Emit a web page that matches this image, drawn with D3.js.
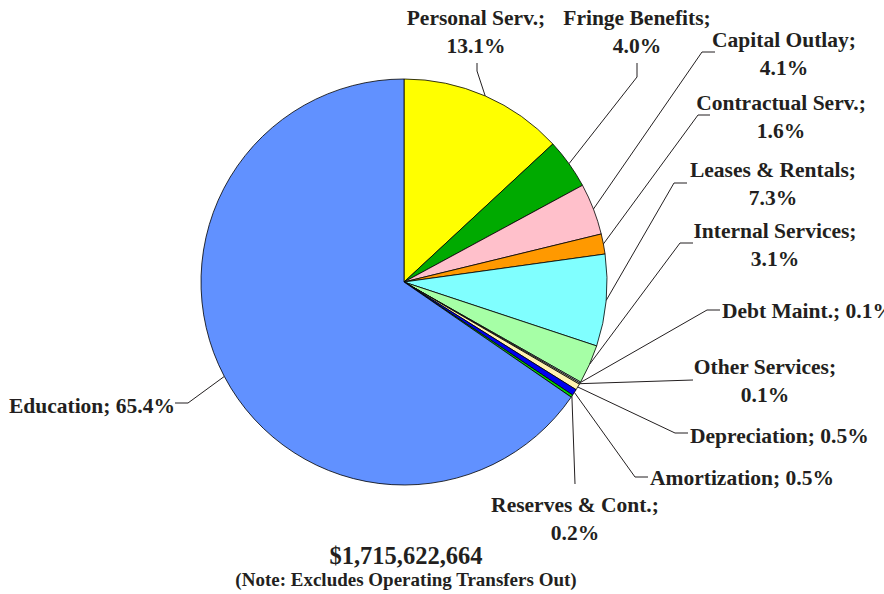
<!DOCTYPE html>
<html>
<head>
<meta charset="utf-8">
<script src="https://cdn.jsdelivr.net/npm/d3@7"></script>
<style>
  html, body { margin: 0; padding: 0; background: #fff; }
  svg { display: block; }
  text { font-family: "Liberation Serif", "Times New Roman", serif; font-weight: bold; fill: #231f20; }
</style>
</head>
<body>
<svg id="chart" width="884" height="594"></svg>
<script>
// Budget shares by category, clockwise from 12 o'clock
const categories = [
  "Personal Serv.", "Fringe Benefits", "Capital Outlay", "Contractual Serv.",
  "Leases & Rentals", "Internal Services", "Debt Maint.", "Other Services",
  "Depreciation", "Amortization", "Reserves & Cont.", "Education"
];
const shares = [13.1, 4.0, 4.1, 1.6, 7.3, 3.1, 0.1, 0.1, 0.5, 0.5, 0.2, 65.4];
const sliceColors = [
  "#ffff00", "#00aa00", "#ffc0cb", "#ff9900",
  "#80ffff", "#a6ffa6", "#d9f2ff", "#ffffcc",
  "#fff2b0", "#0000ee", "#00dd00", "#6191ff"
];
const totalLabel = "$1,715,622,664";
const noteLabel = "(Note: Excludes Operating Transfers Out)";

// Label placement: anchor point, alignment, one or two lines, and the elbow of the leader
const labelLayout = [
  { x: 476, y: 25, anchor: "middle", wrap: true,  elbow: [[477, 71], [477, 63]] },
  { x: 637, y: 25, anchor: "middle", wrap: true,  elbow: [[637, 77], [637, 63]] },
  { x: 784, y: 47, anchor: "middle", wrap: true,  elbow: [[702, 52], [715, 52]] },
  { x: 781, y: 110, anchor: "middle", wrap: true, elbow: [[698, 115], [710, 115]] },
  { x: 773, y: 177, anchor: "middle", wrap: true, elbow: [[674, 183], [687, 183]] },
  { x: 775, y: 238, anchor: "middle", wrap: true, elbow: [[680, 243], [693, 243]] },
  { x: 722, y: 318, anchor: "start", wrap: false, elbow: [[707, 310], [720, 310]] },
  { x: 765, y: 374, anchor: "middle", wrap: true, elbow: [[693, 380]] },
  { x: 690, y: 443, anchor: "start", wrap: false, elbow: [[675, 433], [688, 433]] },
  { x: 650, y: 485, anchor: "start", wrap: false, elbow: [[635, 477], [648, 477]] },
  { x: 575, y: 512, anchor: "middle", wrap: true, elbow: [[575, 484]] },
  { x: 175, y: 413, anchor: "end", wrap: false,  elbow: [[188, 403], [175, 403]] }
];

const svg = d3.select("#chart");
const cx = 404, cy = 282, radius = 203;
const fontSize = 21.5, lineGap = 28;

const data = categories.map((name, i) => ({ name, value: shares[i], color: sliceColors[i], layout: labelLayout[i] }));

const pie = d3.pie().sort(null).value(d => d.value).startAngle(0).endAngle(2 * Math.PI);
const arcs = pie(data);
const arc = d3.arc().innerRadius(0).outerRadius(radius);

const g = svg.append("g").attr("transform", `translate(${cx},${cy})`);

g.selectAll("path.slice")
  .data(arcs)
  .join("path")
  .attr("class", "slice")
  .attr("d", arc)
  .attr("fill", d => d.data.color)
  .attr("stroke", "#000")
  .attr("stroke-width", 0.8)
  .attr("stroke-linejoin", "round");

// Leader lines from the middle of each slice's rim to its label
const rimPoint = d => {
  const a = (d.startAngle + d.endAngle) / 2;
  return [cx + radius * Math.sin(a), cy - radius * Math.cos(a)];
};
const line = d3.line();
svg.selectAll("path.leader")
  .data(arcs)
  .join("path")
  .attr("class", "leader")
  .attr("d", d => line([rimPoint(d), ...d.data.layout.elbow]))
  .attr("fill", "none")
  .attr("stroke", "#231f20")
  .attr("stroke-width", 1);

const fmt = v => v.toFixed(1) + "%";
svg.selectAll("text.label")
  .data(arcs)
  .join("text")
  .attr("class", "label")
  .attr("text-anchor", d => d.data.layout.anchor)
  .attr("font-size", fontSize)
  .each(function (d) {
    const t = d3.select(this);
    const L = d.data.layout;
    if (L.wrap) {
      t.append("tspan").attr("x", L.x).attr("y", L.y).text(d.data.name + ";");
      t.append("tspan").attr("x", L.x).attr("y", L.y + lineGap).text(fmt(d.data.value));
    } else {
      t.append("tspan").attr("x", L.x).attr("y", L.y).text(d.data.name + "; " + fmt(d.data.value));
    }
  });

svg.append("text")
  .attr("x", 406).attr("y", 564)
  .attr("text-anchor", "middle")
  .attr("font-size", 24.5)
  .text(totalLabel);

svg.append("text")
  .attr("x", 406).attr("y", 586)
  .attr("text-anchor", "middle")
  .attr("font-size", 19)
  .text(noteLabel);
</script>
</body>
</html>
